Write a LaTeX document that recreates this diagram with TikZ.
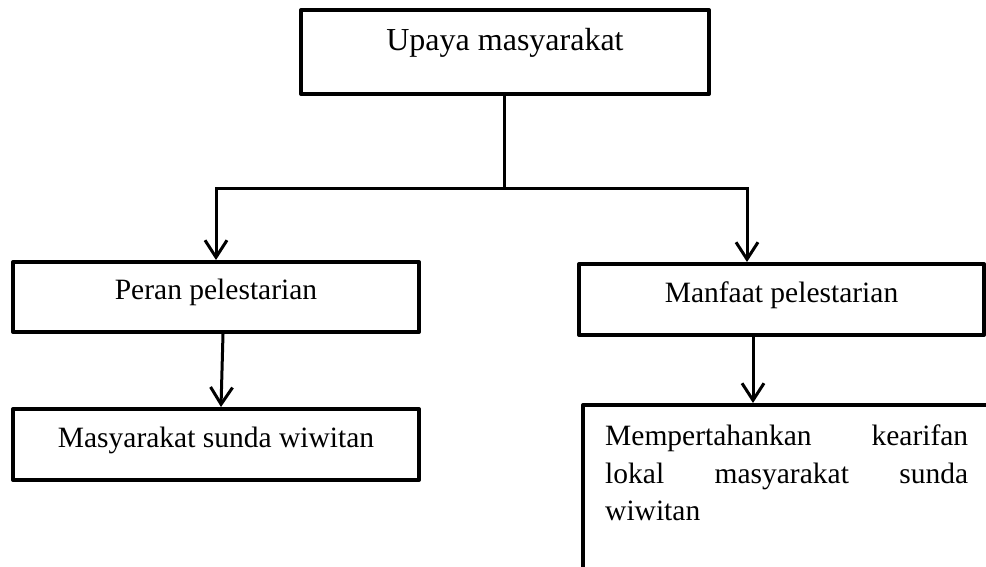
\documentclass[tikz,border=0pt]{standalone}
\usepackage{fontspec}
\setmainfont{Liberation Serif}
\usetikzlibrary{arrows.meta}
\newcommand{\nohyph}{\hyphenpenalty=10000\relax\exhyphenpenalty=10000\relax}
\begin{document}
\begin{tikzpicture}[x=1pt,y=-1pt,
  txt/.style={font=\fontsize{29.5}{37.5}\selectfont},
  box/.style={draw, line width=4pt, line join=round, inner sep=0pt, txt, text height=20pt},
  conn/.style={line width=3pt},
  arr/.style={conn, -{Straight Barb[length=17pt,width=22pt]}}]
\useasboundingbox (0,0) rectangle (986,566);
\clip (0,0) rectangle (986,566);
\node[box, minimum width=408pt, minimum height=84pt, text depth=24pt, font=\fontsize{32}{38}\selectfont] (up) at (505,52) {Upaya masyarakat};
\node[box, minimum width=406pt, minimum height=70pt, text depth=16pt] (per) at (216,297) {Peran pelestarian};
\node[box, minimum width=406pt, minimum height=71pt, text depth=15pt] (mas) at (216,444.5) {Masyarakat sunda wiwitan};
\node[box, minimum width=405pt, minimum height=71pt, text depth=15pt] (man) at (781.5,299.5) {Manfaat pelestarian};
\node[draw, line width=4pt, line join=round, anchor=north west, minimum width=450pt, minimum height=250pt, inner sep=0pt] (bx) at (581,403) {};
\node[anchor=north west, text width=363pt, align=justify, inner sep=0pt,
  font=\fontsize{29.5}{37.5}\selectfont\nohyph] (bxt) at (605,425)
  {\noindent Mempertahankan kearifan\linebreak lokal masyarakat sunda\linebreak wiwitan};
\coordinate (j) at (504,188);
\coordinate (mr) at (747,188);
\draw[conn] (up.south -| j) -- (j);
\draw[arr] (j) -| (per.north);
\draw[arr] (j) -- (mr) -- (mr |- man.north);
\draw[arr] ([xshift=7pt]per.south) -- ([xshift=5pt]mas.north);
\draw[arr] (man.south -| 753,0) -- (bx.north -| 753,0);
\end{tikzpicture}
\end{document}
